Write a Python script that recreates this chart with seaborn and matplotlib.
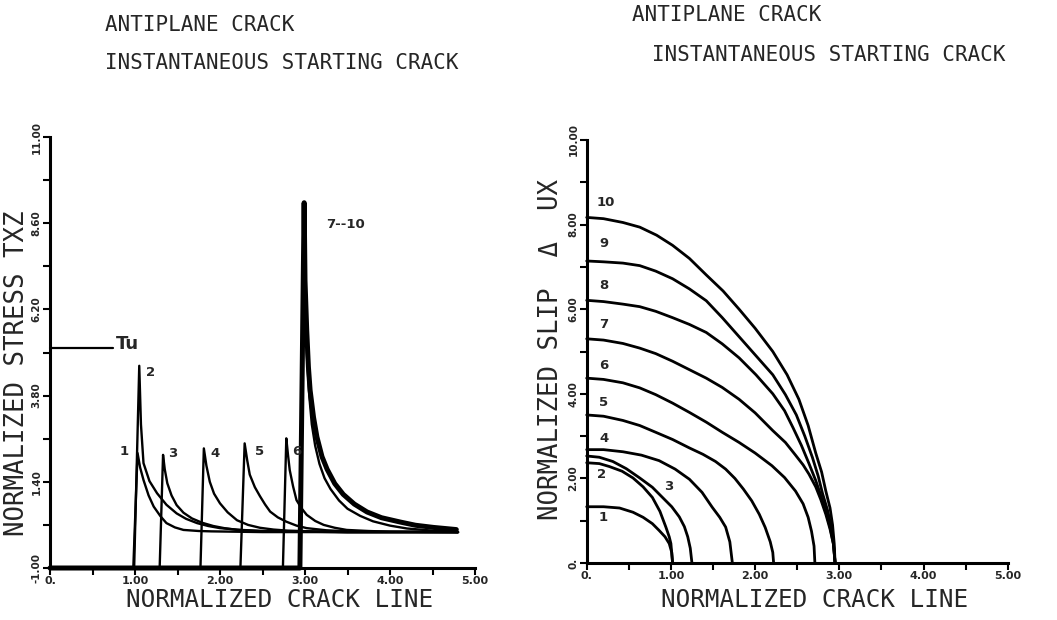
import numpy as np
import pandas as pd
import matplotlib
matplotlib.use("Agg")
import matplotlib.pyplot as plt
import seaborn as sns

sns.set_theme(style="white")
plt.rcParams['font.family'] = ['DejaVu Sans Mono', 'DejaVu Sans']

# ---------------- data: left panel (normalized stress TXZ) ----------------
c1_x = [0, 0.98, 1.03, 1.06, 1.10, 1.16, 1.22, 1.30, 1.37, 1.47, 1.57, 1.75, 1.90, 2.50, 3.50, 4.80]
c1_y = [-1, -1, 2.20, 1.80, 1.45, 1.02, 0.71, 0.44, 0.25, 0.13, 0.06, 0.03, 0.02, 0.0, 0.0, 0.0]
c2_x = [0, 0.99, 1.05, 1.07, 1.10, 1.17, 1.26, 1.37, 1.49, 1.60, 1.73, 1.86, 2.00, 2.25, 2.50, 3.00, 3.50, 4.80]
c2_y = [-1, -1, 4.63, 3.00, 1.92, 1.42, 1.08, 0.76, 0.52, 0.37, 0.25, 0.17, 0.11, 0.06, 0.03, 0.01, 0.0, 0.0]
c3_x = [0, 1.29, 1.33, 1.35, 1.38, 1.43, 1.49, 1.57, 1.67, 1.79, 1.92, 2.05, 2.20, 2.45, 2.70, 3.50, 4.80]
c3_y = [-1, -1, 2.15, 1.75, 1.36, 1.02, 0.75, 0.54, 0.38, 0.26, 0.17, 0.11, 0.06, 0.03, 0.02, 0.0, 0.0]
c4_x = [0, 1.77, 1.81, 1.84, 1.88, 1.93, 2.00, 2.09, 2.20, 2.33, 2.47, 2.63, 2.80, 3.10, 3.50, 4.80]
c4_y = [-1, -1, 2.33, 1.85, 1.40, 1.07, 0.80, 0.55, 0.33, 0.20, 0.12, 0.07, 0.04, 0.02, 0.0, 0.0]
c5_x = [0, 2.24, 2.29, 2.32, 2.35, 2.41, 2.47, 2.53, 2.59, 2.68, 2.78, 2.90, 3.02, 3.25, 3.50, 4.80]
c5_y = [-1, -1, 2.47, 2.00, 1.60, 1.25, 1.00, 0.77, 0.57, 0.41, 0.29, 0.18, 0.11, 0.05, 0.02, 0.0]
c6_x = [0, 2.74, 2.78, 2.80, 2.82, 2.86, 2.90, 2.96, 3.02, 3.12, 3.22, 3.35, 3.49, 3.75, 4.00, 4.80]
c6_y = [-1, -1, 2.61, 2.15, 1.73, 1.27, 0.89, 0.66, 0.48, 0.31, 0.20, 0.12, 0.06, 0.03, 0.01, 0.0]
c7_x = [0, 2.94, 2.99, 3.00, 3.02, 3.05, 3.08, 3.12, 3.17, 3.23, 3.30, 3.40, 3.50, 3.65, 3.80, 4.00, 4.20, 4.50, 4.80]
c7_y = [-1, -1, 9.17, 7.20, 5.00, 3.80, 3.00, 2.40, 1.90, 1.50, 1.20, 0.88, 0.65, 0.45, 0.30, 0.18, 0.10, 0.04, 0.0]
c8_10_x = [0, 2.94, 2.99, 3.00, 3.02, 3.04, 3.06, 3.10, 3.14, 3.20, 3.26, 3.35, 3.45, 3.58, 3.73, 3.90, 4.12, 4.30, 4.51, 4.78]
c8_10_y = [-1, -1, 9.17, 7.00, 5.63, 4.60, 3.95, 3.20, 2.65, 2.10, 1.75, 1.35, 1.05, 0.78, 0.56, 0.40, 0.28, 0.19, 0.13, 0.07]
TU = 5.13
TU_END = 0.74

# ---------------- data: right panel (normalized slip) ----------------
s1_x = [0, 0.20, 0.39, 0.55, 0.67, 0.78, 0.86, 0.93, 0.98, 1.01, 1.02]
s1_y = [1.33, 1.33, 1.30, 1.20, 1.08, 0.93, 0.77, 0.62, 0.46, 0.25, 0.0]
s2_x = [0, 0.15, 0.27, 0.42, 0.55, 0.67, 0.78, 0.87, 0.94, 0.98, 1.00, 1.02]
s2_y = [2.37, 2.35, 2.28, 2.17, 2.01, 1.80, 1.55, 1.22, 0.85, 0.62, 0.46, 0.0]
s3_x = [0, 0.15, 0.31, 0.47, 0.63, 0.78, 0.90, 1.01, 1.10, 1.16, 1.20, 1.23, 1.25]
s3_y = [2.53, 2.50, 2.40, 2.23, 2.01, 1.79, 1.55, 1.33, 1.09, 0.86, 0.62, 0.35, 0.0]
s4_x = [0, 0.20, 0.43, 0.65, 0.86, 1.05, 1.22, 1.37, 1.49, 1.58, 1.65, 1.70, 1.73]
s4_y = [2.68, 2.68, 2.63, 2.55, 2.42, 2.22, 1.98, 1.67, 1.32, 1.08, 0.85, 0.50, 0.0]
s5_x = [0, 0.20, 0.43, 0.63, 0.82, 1.02, 1.22, 1.38, 1.53, 1.65, 1.76, 1.86, 1.96, 2.05, 2.12, 2.18, 2.21, 2.22]
s5_y = [3.50, 3.47, 3.37, 3.25, 3.09, 2.92, 2.72, 2.57, 2.40, 2.22, 2.00, 1.75, 1.47, 1.15, 0.84, 0.50, 0.25, 0.0]
s6_x = [0, 0.20, 0.43, 0.63, 0.82, 1.02, 1.22, 1.42, 1.61, 1.81, 2.00, 2.20, 2.35, 2.48, 2.57, 2.63, 2.67, 2.70, 2.71]
s6_y = [4.37, 4.34, 4.26, 4.14, 3.98, 3.78, 3.56, 3.33, 3.09, 2.85, 2.60, 2.30, 2.02, 1.70, 1.40, 1.08, 0.75, 0.40, 0.0]
s7_x = [0, 0.20, 0.43, 0.63, 0.82, 1.02, 1.22, 1.42, 1.61, 1.81, 2.00, 2.21, 2.36, 2.48, 2.57, 2.64, 2.72, 2.78, 2.84, 2.89, 2.93, 2.95]
s7_y = [5.30, 5.27, 5.19, 5.08, 4.95, 4.77, 4.57, 4.37, 4.15, 3.87, 3.55, 3.13, 2.85, 2.55, 2.32, 2.10, 1.80, 1.50, 1.15, 0.80, 0.45, 0.0]
s8_x = [0, 0.20, 0.43, 0.63, 0.82, 1.02, 1.22, 1.42, 1.61, 1.81, 2.01, 2.21, 2.35, 2.45, 2.55, 2.64, 2.72, 2.78, 2.84, 2.89, 2.93, 2.95]
s8_y = [6.21, 6.18, 6.12, 6.06, 5.95, 5.80, 5.64, 5.45, 5.18, 4.85, 4.45, 4.00, 3.60, 3.20, 2.78, 2.35, 1.95, 1.60, 1.22, 0.85, 0.45, 0.0]
s9_x = [0, 0.20, 0.43, 0.63, 0.82, 1.02, 1.22, 1.42, 1.61, 1.81, 2.01, 2.21, 2.36, 2.49, 2.59, 2.68, 2.75, 2.80, 2.86, 2.90, 2.93, 2.95]
s9_y = [7.14, 7.12, 7.09, 7.03, 6.90, 6.72, 6.48, 6.20, 5.80, 5.35, 4.90, 4.45, 3.98, 3.50, 3.00, 2.50, 2.05, 1.65, 1.25, 0.90, 0.50, 0.0]
s10_x = [0, 0.20, 0.43, 0.63, 0.83, 1.02, 1.22, 1.42, 1.62, 1.81, 2.00, 2.21, 2.38, 2.52, 2.63, 2.72, 2.79, 2.84, 2.89, 2.92, 2.94, 2.95]
s10_y = [8.17, 8.14, 8.05, 7.94, 7.75, 7.51, 7.20, 6.81, 6.43, 6.00, 5.55, 5.00, 4.45, 3.87, 3.25, 2.60, 2.15, 1.70, 1.30, 0.90, 0.45, 0.0]

left_thin = {"1": (c1_x, c1_y), "2": (c2_x, c2_y), "3": (c3_x, c3_y),
             "4": (c4_x, c4_y), "5": (c5_x, c5_y), "6": (c6_x, c6_y),
             "7": (c7_x, c7_y)}
left_band = {"8-10": (c8_10_x, c8_10_y)}
right_curves = {"1": (s1_x, s1_y), "2": (s2_x, s2_y), "3": (s3_x, s3_y),
                "4": (s4_x, s4_y), "5": (s5_x, s5_y), "6": (s6_x, s6_y),
                "7": (s7_x, s7_y), "8": (s8_x, s8_y), "9": (s9_x, s9_y),
                "10": (s10_x, s10_y)}


def to_df(d):
    rows = []
    for k, (xs, ys) in d.items():
        for i, (a, b) in enumerate(zip(xs, ys)):
            rows.append({"curve": k, "order": i, "x": a, "y": b})
    return pd.DataFrame(rows)


dfL = to_df(left_thin)
dfB = to_df(left_band)
dfR = to_df(right_curves)

# tick values and labels
left_tick_vals = [-1.0, 1.4, 3.8, 6.2, 8.6, 11.0]
left_tick_lbls = ["-1.00", "1.40", "3.80", "6.20", "8.60", "11.00"]
left_minor = [0.2, 2.6, 5.0, 7.4, 9.8]
right_tick_vals = [0, 2, 4, 6, 8, 10]
right_tick_lbls = ["0.", "2.00", "4.00", "6.00", "8.00", "10.00"]
right_minor = [1, 3, 5, 7, 9]
x_tick_vals = [0, 1, 2, 3, 4, 5]
x_tick_lbls = ["0.", "1.00", "2.00", "3.00", "4.00", "5.00"]
x_minor = [0.5, 1.5, 2.5, 3.5, 4.5]

left_num_labels = [("1", 0.82, 2.23), ("2", 1.13, 4.43), ("3", 1.39, 2.20),
                   ("4", 1.89, 2.20), ("5", 2.41, 2.23), ("6", 2.85, 2.23),
                   ("7--10", 3.25, 8.55)]
right_num_labels = [("10", 0.12, 8.52), ("9", 0.15, 7.56), ("8", 0.15, 6.55),
                    ("7", 0.15, 5.63), ("6", 0.15, 4.68), ("5", 0.15, 3.79),
                    ("4", 0.15, 2.95), ("2", 0.12, 2.10), ("1", 0.14, 1.08),
                    ("3", 0.92, 1.82)]

W, H = 1057, 620
fig = plt.figure(figsize=(W / 100, H / 100), dpi=100)
fig.patch.set_facecolor("white")
axL = fig.add_axes([50 / W, 52 / H, 425 / W, 431 / H])
axR = fig.add_axes([586.7 / W, 57 / H, 421 / W, 423 / H])

sns.lineplot(data=dfL, x="x", y="y", units="curve", estimator=None, sort=False,
             color="black", lw=1.7, ax=axL, legend=False)
sns.lineplot(data=dfB, x="x", y="y", units="curve", estimator=None, sort=False,
             color="black", lw=3.6, ax=axL, legend=False)
axL.plot([0, TU_END], [TU, TU], color="black", lw=1.6)
axL.text(TU_END + 0.04, TU + 0.1, "Tu", fontsize=13, fontweight="bold",
         family="DejaVu Sans", va="center", ha="left")

sns.lineplot(data=dfR, x="x", y="y", units="curve", estimator=None, sort=False,
             color="black", lw=2.0, ax=axR, legend=False)

for lab, xx, yy in left_num_labels:
    axL.text(xx, yy, lab, fontsize=9.5, fontweight="bold", family="DejaVu Sans",
             ha="left", va="center")
for lab, xx, yy in right_num_labels:
    axR.text(xx, yy, lab, fontsize=9.5, fontweight="bold", family="DejaVu Sans",
             ha="left", va="center")

for ax, (ylo, yhi), yv, yl, ym in [
        (axL, (-1, 11), left_tick_vals, left_tick_lbls, left_minor),
        (axR, (0, 10), right_tick_vals, right_tick_lbls, right_minor)]:
    ax.set_xlim(0, 5)
    ax.set_ylim(ylo, yhi)
    ax.set_xticks(x_tick_vals)
    ax.set_xticklabels(x_tick_lbls, fontsize=8, fontweight="bold",
                       family="DejaVu Sans")
    ax.set_xticks(x_minor, minor=True)
    ax.set_yticks(yv)
    ax.set_yticklabels(yl, fontsize=7.5, fontweight="bold", family="DejaVu Sans",
                       rotation=90, va="center")
    ax.set_yticks(ym, minor=True)
    ax.tick_params(axis="both", which="both", direction="out", length=5,
                   width=1.5, color="black", pad=1, bottom=True, left=True)
    for s in ["top", "right"]:
        ax.spines[s].set_visible(False)
    for s in ["left", "bottom"]:
        ax.spines[s].set_linewidth(2.2)
        ax.spines[s].set_color("black")
    ax.set_xlabel("")
    ax.set_ylabel("")
    ax.set_facecolor("white")
    ax.grid(False)
    for ln in ax.lines:
        ln.set_clip_on(False)

# titles
fig.text(105 / W, 1 - 25 / H, "ANTIPLANE CRACK", fontsize=15, va="center", ha="left")
fig.text(105 / W, 1 - 63 / H, "INSTANTANEOUS STARTING CRACK", fontsize=15,
         va="center", ha="left")
fig.text(632 / W, 1 - 15 / H, "ANTIPLANE CRACK", fontsize=15, va="center", ha="left")
fig.text(652 / W, 1 - 55 / H, "INSTANTANEOUS STARTING CRACK", fontsize=15,
         va="center", ha="left")

# axis labels
fig.text(280 / W, 1 - 600 / H, "NORMALIZED CRACK LINE", fontsize=17.5,
         ha="center", va="center")
fig.text(815 / W, 1 - 600 / H, "NORMALIZED CRACK LINE", fontsize=17.5,
         ha="center", va="center")
fig.text(17 / W, 1 - 373 / H, "NORMALIZED STRESS TXZ", fontsize=18.5,
         rotation=90, ha="center", va="center")
fig.text(551 / W, 1 - 350 / H, "NORMALIZED SLIP  \u0394  UX", fontsize=18.5,
         rotation=90, ha="center", va="center")

fig.savefig("out.png", dpi=100, facecolor="white")
